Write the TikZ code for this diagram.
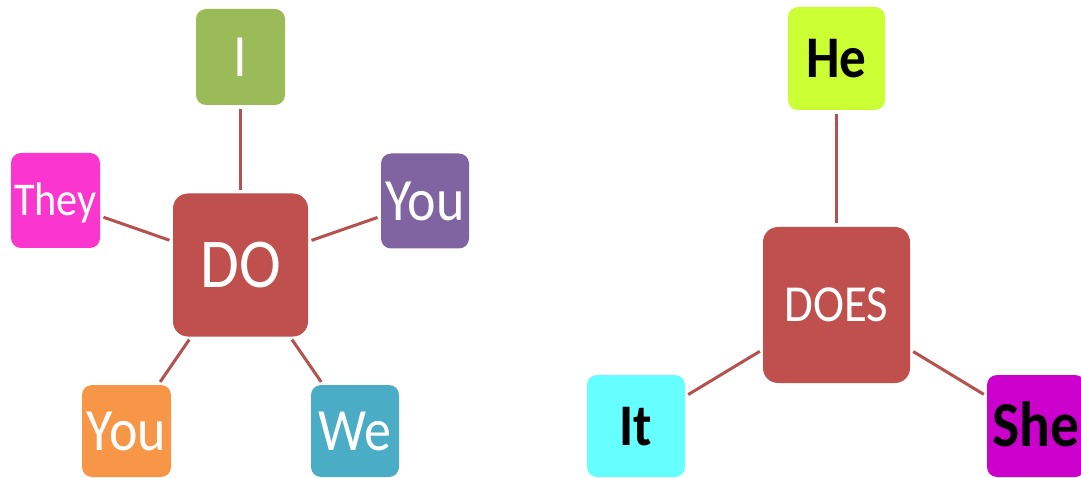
\documentclass[tikz,border=0pt]{standalone}
\usepackage{fontspec}
\setmainfont{Carlito}[FakeStretch=0.9]
\definecolor{cI}{HTML}{9BBB59}
\definecolor{cThey}{HTML}{FB36CF}
\definecolor{cYouP}{HTML}{8064A2}
\definecolor{cYouO}{HTML}{F79646}
\definecolor{cWe}{HTML}{4BACC6}
\definecolor{cDO}{HTML}{C0504D}
\definecolor{cHe}{HTML}{CCFF33}
\definecolor{cIt}{HTML}{66FFFF}
\definecolor{cShe}{HTML}{CC00CC}
\definecolor{cLine}{HTML}{B5524F}
\begin{document}
\begin{tikzpicture}[x=1pt,y=-1pt,
  pbox/.style={rounded corners=10pt, inner sep=0pt, text depth=0pt},
  wbox/.style={pbox, text=white, font=\fontsize{60}{60}\selectfont, text height=38.6pt},
  bbox/.style={pbox, text=black, font=\fontsize{59}{59}\selectfont\bfseries, text height=38pt},
  link/.style={draw=cLine, line width=3pt, shorten >=3.5pt, shorten <=3.5pt}]
\useasboundingbox (0,0) rectangle (1081,478);
\clip (0,0) rectangle (1081,478);
\fill[white] (0,0) rectangle (1081,478);
% left group
\node[wbox, fill=cDO, rounded corners=15pt, minimum width=135pt, minimum height=143pt, font=\fontsize{70}{70}\selectfont, text height=45pt] (do) at (240.5,265) {DO};
\node[wbox, fill=cI, minimum width=89pt, minimum height=96pt] (i) at (240.5,57) {I};
\node[wbox, fill=cThey, minimum width=89pt, minimum height=95pt, font=\fontsize{47}{47}\selectfont, text height=30pt] (they) at (55.5,200.5) {They};
\node[wbox, fill=cYouP, minimum width=88pt, minimum height=95pt] (youp) at (425,201) {You};
\node[wbox, fill=cYouO, minimum width=89pt, minimum height=92pt] (youo) at (126.5,431) {You};
\node[wbox, fill=cWe, minimum width=88pt, minimum height=92pt] (we) at (355,431) {We};
\draw[link] (do) -- (i);
\draw[link] (do) -- (they);
\draw[link] (do) -- (youp);
\draw[link] (do) -- (youo);
\draw[link] (do) -- (we);
% right group
\node[wbox, fill=cDO, rounded corners=15pt, minimum width=147pt, minimum height=156pt, font=\fontsize{52}{52}\selectfont, text height=33.5pt] (does) at (836.5,305) {DOES};
\node[bbox, fill=cHe, minimum width=97pt, minimum height=103pt] (he) at (836.5,58.5) {He};
\node[bbox, fill=cIt, minimum width=98pt, minimum height=102pt] (it) at (636,426) {It};
\node[bbox, fill=cShe, minimum width=98pt, minimum height=102pt, font=\fontsize{64}{64}\selectfont\bfseries, text height=41pt] (she) at (1036,426) {She};
\draw[link] (does) -- (he);
\draw[link] (does) -- (it);
\draw[link] (does) -- (she);
\end{tikzpicture}
\end{document}
